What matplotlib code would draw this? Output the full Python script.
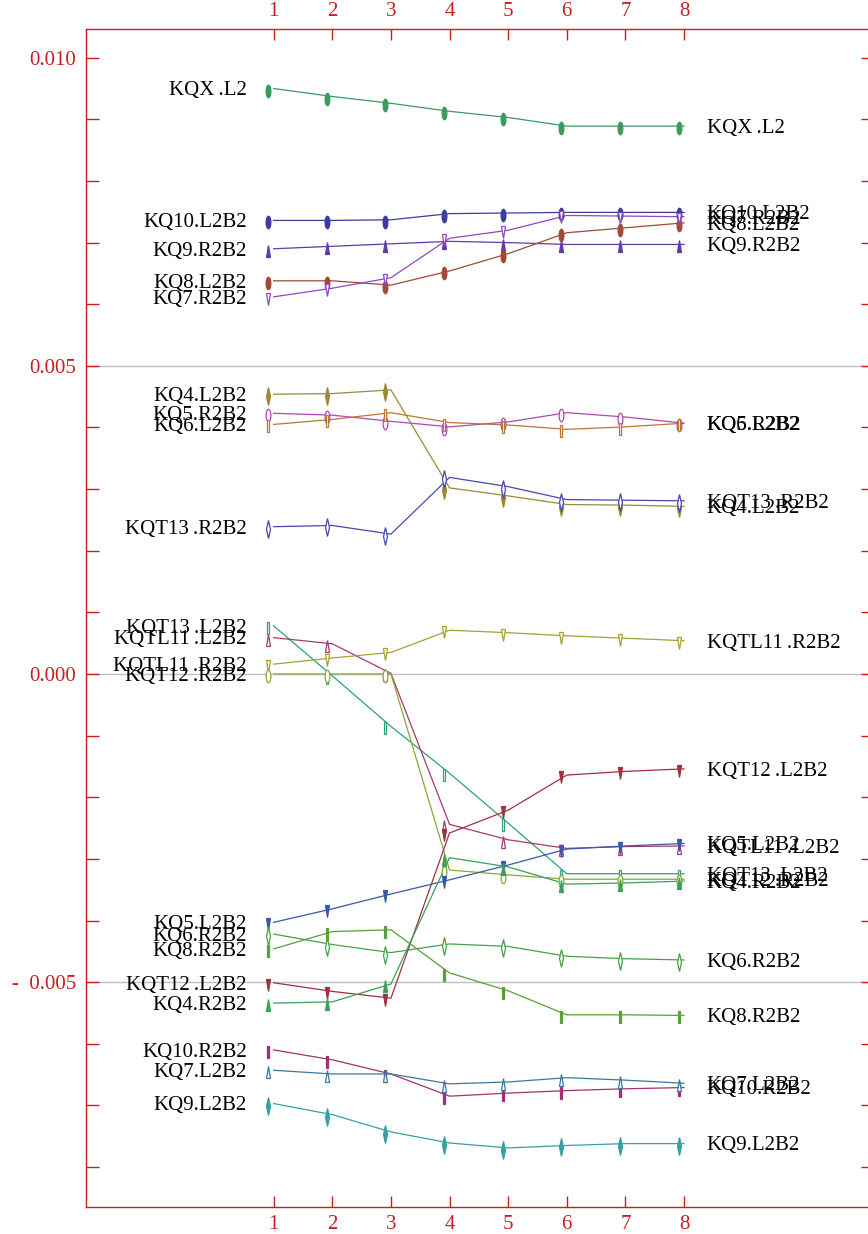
import numpy as np
import matplotlib
matplotlib.use('Agg')
import matplotlib.pyplot as plt
from matplotlib.markers import MarkerStyle
from matplotlib.transforms import Affine2D, offset_copy

plt.rcParams['font.family'] = ['Liberation Serif', 'DejaVu Serif']

steps = [1, 2, 3, 4, 5, 6, 7, 8]

# values in units of 1e-3
names = ['KQX\u2009.L2', 'KQ10.L2B2', 'KQ9.R2B2', 'KQ8.L2B2', 'KQ7.R2B2',
         'KQ4.L2B2', 'KQ5.R2B2', 'KQ6.L2B2', 'KQT13\u2009.R2B2', 'KQT13\u2009.L2B2',
         'KQTL11\u2009.L2B2', 'KQTL11\u2009.R2B2', 'KQT12\u2009.R2B2', 'KQT12\u2009.L2B2',
         'KQ5.L2B2', 'KQ6.R2B2', 'KQ8.R2B2', 'KQ4.R2B2', 'KQ10.R2B2',
         'KQ7.L2B2', 'KQ9.L2B2']

kqx_l2      = [9.50, 9.37, 9.26, 9.13, 9.03, 8.89, 8.89, 8.89]
kq10_l2b2   = [7.36, 7.36, 7.37, 7.47, 7.48, 7.49, 7.49, 7.49]
kq9_r2b2    = [6.90, 6.94, 6.98, 7.02, 7.00, 6.97, 6.97, 6.97]
kq8_l2b2    = [6.38, 6.38, 6.31, 6.54, 6.82, 7.16, 7.24, 7.32]
kq7_r2b2    = [6.12, 6.26, 6.43, 7.07, 7.20, 7.44, 7.43, 7.42]
kq4_l2b2    = [4.54, 4.55, 4.61, 3.02, 2.89, 2.75, 2.74, 2.72]
kq5_r2b2    = [4.23, 4.20, 4.10, 4.01, 4.09, 4.24, 4.17, 4.07]
kq6_l2b2    = [4.05, 4.13, 4.24, 4.08, 4.04, 3.97, 4.01, 4.07]
kqt13_r2b2  = [2.39, 2.41, 2.27, 3.19, 3.04, 2.83, 2.82, 2.81]
kqt13_l2b2  = [0.78, -0.03, -0.85, -1.61, -2.42, -3.24, -3.24, -3.24]
kqtl11_l2b2 = [0.59, 0.49, 0.01, -2.44, -2.69, -2.83, -2.80, -2.79]
kqtl11_r2b2 = [0.16, 0.26, 0.35, 0.71, 0.67, 0.62, 0.58, 0.54]
kqt12_r2b2  = [0.00, 0.00, 0.00, -3.18, -3.26, -3.33, -3.33, -3.33]
kqt12_l2b2  = [-5.01, -5.15, -5.26, -2.58, -2.21, -1.64, -1.58, -1.54]
kq5_l2b2    = [-4.03, -3.81, -3.57, -3.34, -3.10, -2.84, -2.79, -2.75]
kq6_r2b2    = [-4.22, -4.39, -4.52, -4.38, -4.42, -4.58, -4.62, -4.64]
kq8_r2b2    = [-4.46, -4.18, -4.15, -4.85, -5.14, -5.53, -5.53, -5.54]
kq4_r2b2    = [-5.34, -5.32, -5.03, -2.98, -3.13, -3.41, -3.39, -3.36]
kq10_r2b2   = [-6.10, -6.26, -6.49, -6.85, -6.80, -6.76, -6.73, -6.71]
kq7_l2b2    = [-6.43, -6.49, -6.49, -6.65, -6.62, -6.55, -6.59, -6.64]
kq9_l2b2    = [-6.97, -7.15, -7.43, -7.61, -7.69, -7.65, -7.62, -7.62]

series = [kqx_l2, kq10_l2b2, kq9_r2b2, kq8_l2b2, kq7_r2b2, kq4_l2b2,
          kq5_r2b2, kq6_l2b2, kqt13_r2b2, kqt13_l2b2, kqtl11_l2b2,
          kqtl11_r2b2, kqt12_r2b2, kqt12_l2b2, kq5_l2b2, kq6_r2b2,
          kq8_r2b2, kq4_r2b2, kq10_r2b2, kq7_l2b2, kq9_l2b2]

colors = ['#3a9a60', '#3c3ca0', '#5c3ca8', '#a04a3a', '#9048c0',
          '#9a8a38', '#b048b0', '#b87838', '#4848b0', '#30a080',
          '#a83870', '#a8a030', '#88a838', '#a03040', '#3858a8',
          '#48a048', '#58a038', '#38a058', '#a03070', '#3878a0',
          '#38a0a0']

# marker shape, filled?
markers = [('o', True), ('o', True), ('^', True), ('o', True), ('v', False),
           ('d', True), ('o', False), ('s', False), ('d', False), ('s', False),
           ('^', False), ('v', False), ('o', False), ('v', True), ('v', True),
           ('d', False), ('s', True), ('^', True), ('s', True), ('^', False),
           ('d', True)]

axis_red = '#c81e1e'

fig = plt.figure(figsize=(8.68, 12.34), dpi=100)
right_px = 873
ax = fig.add_axes([86 / 868, 27 / 1234, (right_px - 86) / 868, (1207 - 29) / 1234])

xscale = (684 - 273.7) / 7
ax.set_xlim(1 - (273.7 - 86) / xscale, 8 + (right_px - 684) / xscale)
yscale = (674 - 57.7) / 10.0
ax.set_ylim(-(1207 - 674) / yscale * 1e-3, 10e-3 + (57.7 - 29) / yscale * 1e-3)

for yv in [-0.005, 0.0, 0.005]:
    ax.axhline(yv, color='#c0c0c0', lw=1.0, zorder=0)

mk_trans = offset_copy(ax.transData, fig=fig, x=-5.5, y=-2, units='dots')

for name, vals, col, (mk, filled) in zip(names, series, colors, markers):
    y = np.array(vals) * 1e-3
    ax.plot(steps, y, color=col, lw=0.9, zorder=2)
    sx = 0.26 if mk == 's' else 0.38
    ms = MarkerStyle(mk, transform=Affine2D().scale(sx, 1.0))
    size = 9 if mk in ('o', 'd') else 8
    ax.plot(steps, y, ls='none', marker=ms, markersize=size,
            markeredgecolor=col, markeredgewidth=0.9,
            markerfacecolor=col if filled else 'white',
            transform=mk_trans, zorder=3)
    ax.annotate(name, (steps[0], y[0]), xytext=(-19.4, -1.7),
                textcoords='offset points', ha='right', va='center',
                fontsize=15, color='black')
    ax.annotate(name, (steps[-1], y[-1]), xytext=(16.3, -1.7),
                textcoords='offset points', ha='left', va='center',
                fontsize=15, color='black')

# axes styling
for side in ['left', 'top', 'bottom']:
    ax.spines[side].set_color(axis_red)
    ax.spines[side].set_linewidth(1.0)
ax.spines['right'].set_visible(False)

ax.set_xticks(steps)
ax.set_xticklabels([str(s) for s in steps])
ax.tick_params(axis='x', which='major', direction='in', length=8, width=1,
               color=axis_red, labelcolor=axis_red, labelsize=15,
               top=True, bottom=True, labeltop=True, labelbottom=True, pad=6)

ax.set_yticks([-0.005, 0.0, 0.005, 0.010])
ax.set_yticklabels(['-  0.005', '0.000', '0.005', '0.010'])
ax.set_yticks(np.arange(-8, 11) * 1e-3, minor=True)
ax.tick_params(axis='y', which='both', direction='in', length=9, width=1,
               color=axis_red, labelcolor=axis_red, labelsize=15,
               left=True, right=True, pad=7)

fig.savefig('out.png', dpi=100)
